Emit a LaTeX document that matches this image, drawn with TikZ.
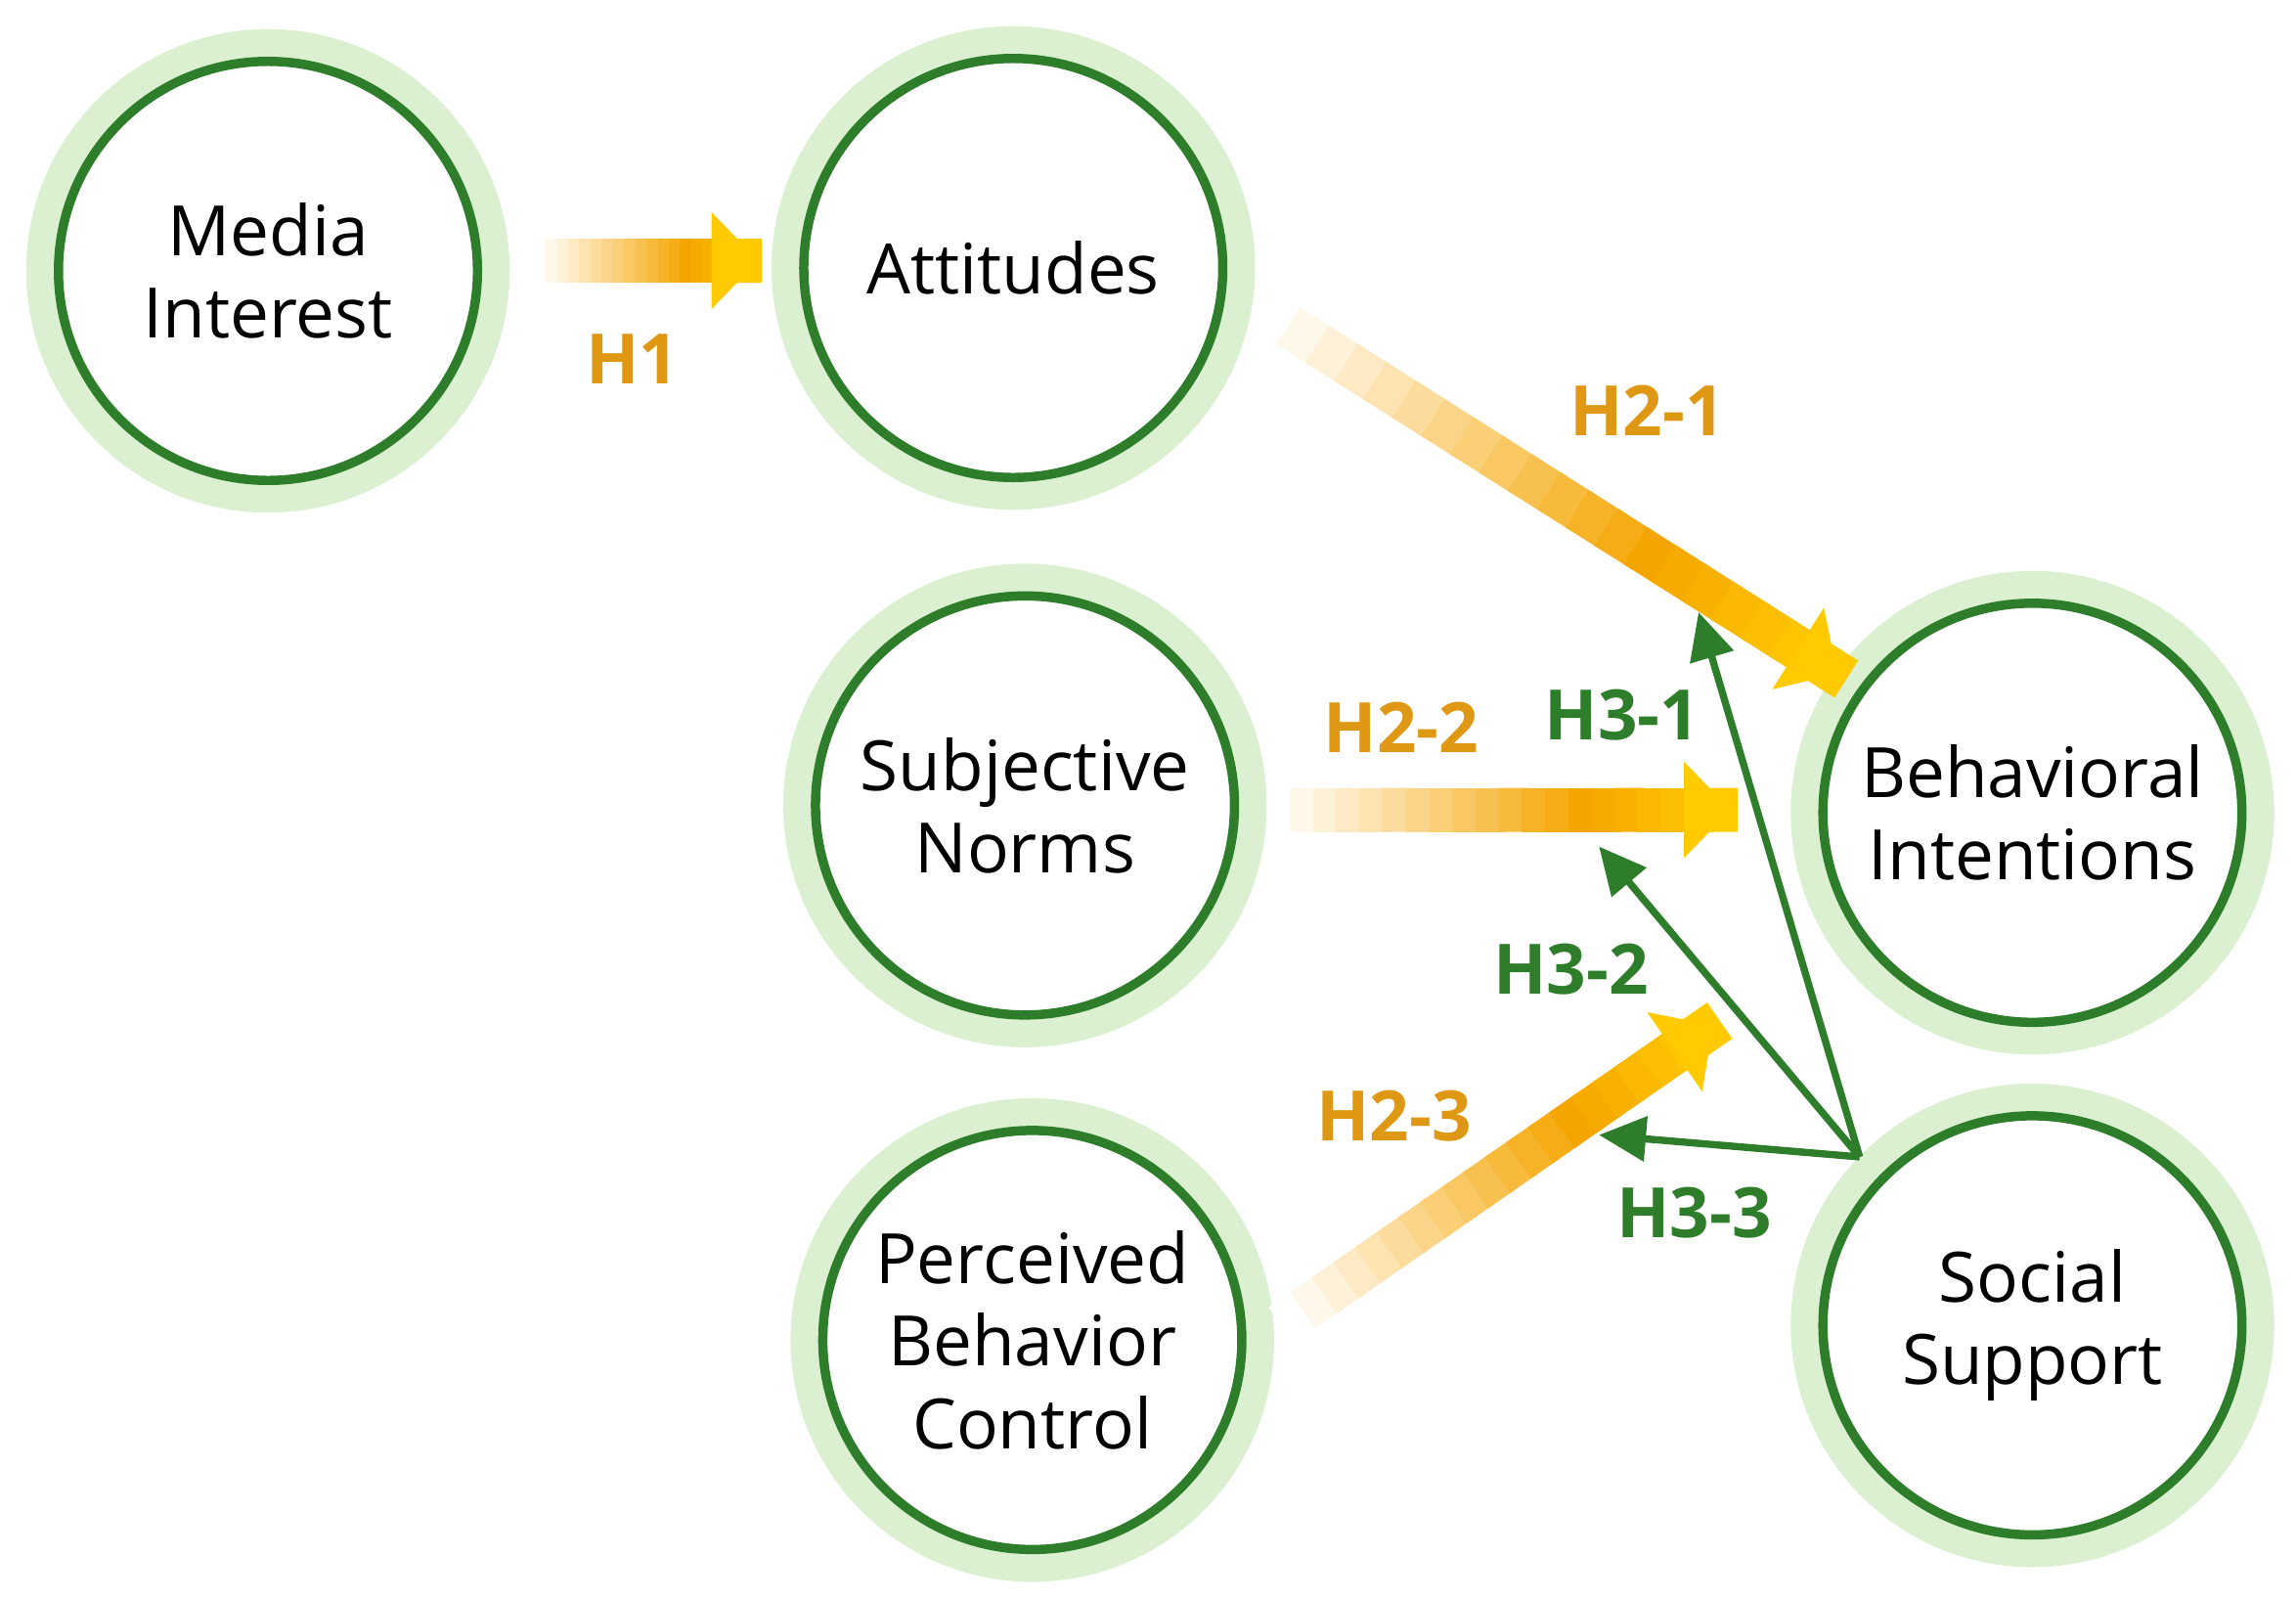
\documentclass[tikz,border=0pt]{standalone}
\usepackage{fontspec}
\setmainfont{Open Sans}
\usetikzlibrary{arrows.meta,calc}
\definecolor{ringbg}{RGB}{218,240,208}
\definecolor{ringfg}{RGB}{46,125,42}
\definecolor{hgold}{RGB}{222,152,20}
\definecolor{aorange}{RGB}{245,165,0}
\definecolor{ayellow}{RGB}{255,202,0}
\tikzset{
  halo/.style={circle,fill=ringbg,minimum size=3.3cm,inner sep=0pt},
  var/.style={circle,draw=ringfg,line width=1.8pt,fill=white,minimum size=2.86cm,
    inner sep=0pt,align=center,font=\fontsize{13.5}{16}\selectfont},
  hlabel/.style={font=\fontsize{13.5}{16}\selectfont\bfseries,text=hgold},
  glabel/.style={font=\fontsize{13.5}{16}\selectfont\bfseries,text=ringfg},
  garrow/.style={draw=ringfg,line width=1.4pt,-{Triangle[length=3.2mm,width=3mm]}}
}
% gradient arrow from #1 to #2
\newcommand{\fadearrow}[2]{%
  \foreach \i in {0,...,19}{%
    \pgfmathsetmacro{\p}{min(100,\i*100/13)}%
    \pgfmathsetmacro{\q}{max(0,(\i-13)*100/6)}%
    \pgfmathsetmacro{\e}{(\i+1.3)/20}%
    \draw[line width=0.3cm,ayellow!\q!aorange!\p!white]
      ($(#1)!\i/20!(#2)$) -- ($(#1)!\e!(#2)$);
  }%
  \draw[line width=0.3cm,ayellow,-{Triangle[length=3.2mm 0,width=6.4mm 0]}]
    ($(#1)!0.95!(#2)$) -- (#2);
}
\begin{document}
\begin{tikzpicture}[x=0.01cm,y=0.01cm]
  \useasboundingbox (0,0) rectangle (1568,-1092);

  % circles
  \foreach \n/\x/\y in {mi/183/185, at/692/183, sn/700/550, pb/705/915, bi/1388/555, ss/1388/905}
    \node[halo] (\n-bg) at (\x,-\y) {};
  \node[var] (mi) at (mi-bg) {Media\\Interest};
  \node[var] (at) at (at-bg) {Attitudes};
  \node[var] (sn) at (sn-bg) {Subjective\\Norms};
  \node[var] (pb) at (pb-bg) {Perceived\\Behavior\\Control};
  \node[var] (bi) at (bi-bg) {Behavioral\\Intentions};
  \node[var] (ss) at (ss-bg) {Social\\Support};

  % ends of the arrows
  \coordinate (h1-s) at (365,-178);  \coordinate (h1-e) at (518,-178);
  \coordinate (h21-s) at (860,-210); \coordinate (h21-e) at (1255,-460);
  \coordinate (h22-s) at (865,-553); \coordinate (h22-e) at (1182,-553);
  \coordinate (h23-s) at (875,-905); \coordinate (h23-e) at (1170,-700);
  \coordinate (ss-out) at (1270,-790);
  \coordinate (h31-e) at (1160,-418);
  \coordinate (h32-e) at (1092,-578);
  \coordinate (h33-e) at (1092,-775);

  % TPB paths
  \fadearrow{h1-s}{h1-e}
  \fadearrow{h21-s}{h21-e}
  \fadearrow{h22-s}{h22-e}
  \fadearrow{h23-s}{h23-e}

  % moderation paths
  \draw[garrow] (ss-out) -- (h31-e);
  \draw[garrow] (ss-out) -- (h32-e);
  \draw[garrow] (ss-out) -- (h33-e);

  % labels
  \node[hlabel] (l-h1) at (432,-245) {H1};
  \node[hlabel] (l-h21) at (1125,-280) {H2-1};
  \node[hlabel] (l-h22) at (957,-497) {H2-2};
  \node[hlabel] (l-h23) at (952,-762) {H2-3};
  \node[glabel] (l-h31) at (1108,-488) {H3-1};
  \node[glabel] (l-h32) at (1073,-662) {H3-2};
  \node[glabel] (l-h33) at (1157,-828) {H3-3};
\end{tikzpicture}
\end{document}
